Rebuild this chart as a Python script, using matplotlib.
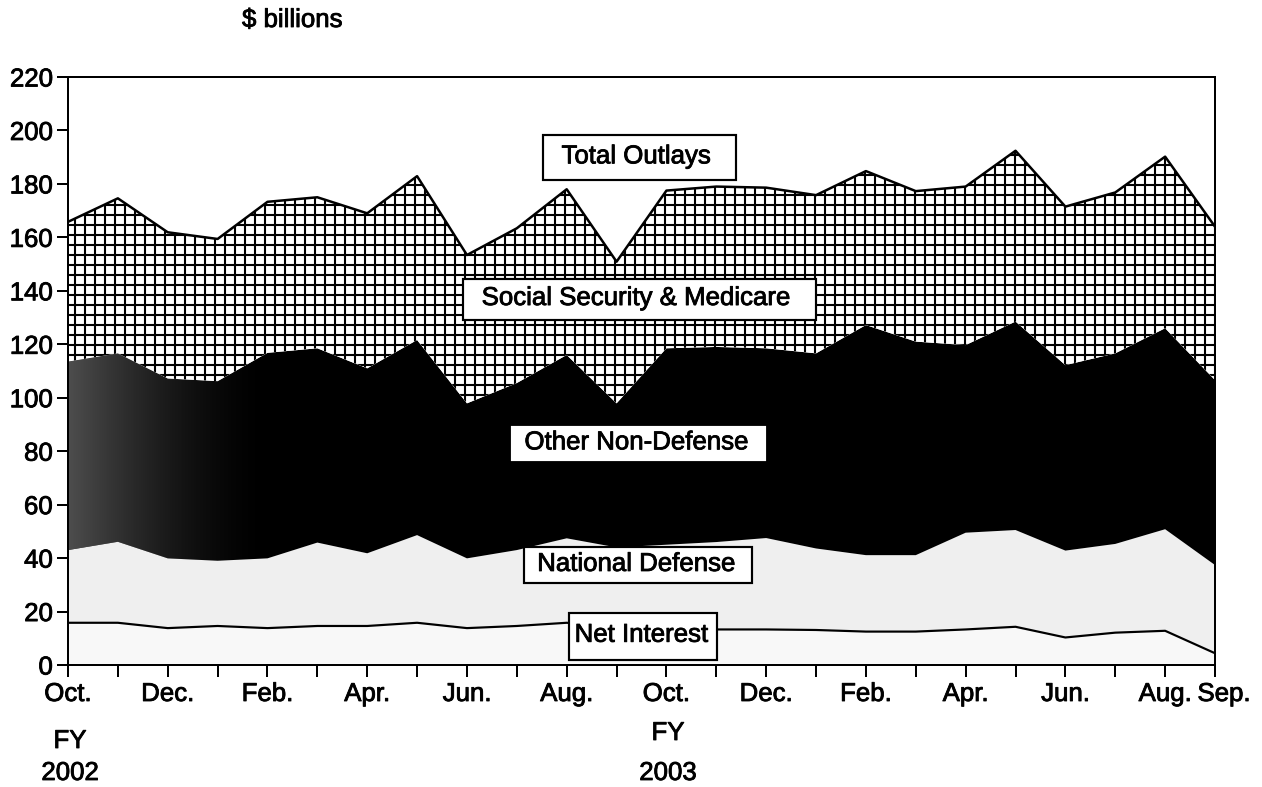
import numpy as np
import matplotlib.pyplot as plt
import matplotlib.patheffects as pe
from matplotlib.patches import Rectangle
from matplotlib.transforms import ScaledTranslation

plt.rcParams['font.family'] = ['Liberation Sans', 'DejaVu Sans']
plt.rcParams['hatch.linewidth'] = 1.25

# monthly outlays, Oct FY2002 .. Sep FY2003 ($ billions)
month_labels = ['Oct.', '', 'Dec.', '', 'Feb.', '', 'Apr.', '', 'Jun.', '', 'Aug.', '',
                'Oct.', '', 'Dec.', '', 'Feb.', '', 'Apr.', '', 'Jun.', '', 'Aug.', 'Sep.']
net_interest = [15.8, 15.8, 13.8, 14.6, 13.8, 14.6, 14.6, 15.8, 13.8, 14.6, 15.8, 14.0,
                13.5, 13.3, 13.3, 13.1, 12.5, 12.5, 13.3, 14.3, 10.3, 12.1, 12.8, 4.4]
national_defense = [27.2, 30.3, 26.1, 24.4, 26.1, 31.2, 27.2, 32.8, 26.1, 28.4, 31.6, 30.0,
                    31.5, 32.7, 34.2, 30.5, 28.6, 28.6, 36.2, 36.2, 32.5, 33.2, 38.0, 33.0]
other_non_defense = [70.5, 70.5, 67.3, 67.2, 76.9, 72.7, 69.2, 73.0, 58.0, 62.5, 68.6, 53.9,
                     73.5, 73.0, 71.0, 73.0, 86.1, 79.9, 70.2, 78.0, 69.4, 71.3, 75.2, 69.2]
ss_medicare = [52.3, 58.0, 54.7, 53.2, 56.5, 56.5, 58.0, 61.3, 55.5, 57.9, 62.0, 53.0,
               59.0, 60.0, 60.1, 59.2, 57.6, 56.3, 59.3, 63.9, 59.3, 60.2, 64.2, 57.4]

x = np.arange(len(month_labels))
ni_top = np.array(net_interest)
nd_top = ni_top + np.array(national_defense)
ond_top = nd_top + np.array(other_non_defense)
total = ond_top + np.array(ss_medicare)

dpi = 120
fig = plt.figure(figsize=(1262 / dpi, 787 / dpi), dpi=dpi)
ax = fig.add_axes([68 / 1262, 1 - 665 / 787, (1215 - 68) / 1262, (665 - 77) / 787])

ax.fill_between(x, 0, ni_top, facecolor='#f8f8f8', lw=0)
ax.fill_between(x, ni_top, nd_top, facecolor='#efefef', lw=0)
ond = ax.fill_between(x, nd_top, ond_top, facecolor='black', lw=0)
ax.fill_between(x, ond_top, total, facecolor='white', hatch='++', edgecolor='black', lw=0)

# grey stipple fading out at the left end of the black band
grad = np.zeros((2, 300, 4))
t = np.clip(np.linspace(0, 23, 300) / 4.0, 0, 1)
grad[..., :3] = 0.36
grad[..., 3] = 0.85 * (1 - t) ** 1.6
im = ax.imshow(grad, extent=(0, 23, 0, 220), aspect='auto', interpolation='bilinear', zorder=2)
im.set_clip_path(ond.get_paths()[0], transform=ax.transData)

ax.plot(x, total, color='black', lw=1.5, zorder=3)
ax.plot(x, ni_top, color='black', lw=1.3, zorder=3)

ax.set_xlim(0, 23)
ax.set_ylim(0, 220)
ax.set_yticks(np.arange(0, 221, 20))
ax.set_xticks(x)
ax.set_xticklabels(month_labels)
for s in ax.spines.values():
    s.set_linewidth(1.2)
ax.tick_params(axis='both', direction='out', width=1.2, labelsize=15.5, color='black')
ax.tick_params(axis='y', length=6.6, pad=2.5)
ax.tick_params(axis='x', length=7.2, pad=3)
last = ax.get_xticklabels()[-1]
last.set_transform(last.get_transform() + ScaledTranslation(9 / dpi, 0, fig.dpi_scale_trans))

heavy = [pe.withStroke(linewidth=0.5, foreground='black')]
for lab in ax.get_xticklabels() + ax.get_yticklabels():
    lab.set_path_effects(heavy)

# series labels in boxes (data coords)
boxes = [
    ('Total Outlays', (9.52, 181.4, 3.87, 16.9), (11.4, 190.3), 'black'),
    ('Social Security & Medicare', (7.92, 129.1, 7.08, 15.3), (11.4, 137.3), 'black'),
    ('Other Non-Defense', (8.90, 76.7, 5.08, 12.3), (11.4, 83.3), 'white'),
    ('National Defense', (9.14, 30.7, 4.58, 13.4), (11.4, 37.8), 'black'),
    ('Net Interest', (10.05, 1.9, 2.96, 17.6), (11.5, 11.3), 'black'),
]
for label, (bx, by, bw, bh), (tx, ty), ec in boxes:
    ax.add_patch(Rectangle((bx, by), bw, bh, facecolor='white', edgecolor=ec,
                           lw=1.3, zorder=4))
    ax.text(tx, ty, label, ha='center', va='center', fontsize=15.5, zorder=5,
            path_effects=heavy)

fig_texts = [
    ('$ billions', 242, 20, 'left'),
    ('FY', 70, 741, 'center'),
    ('2002', 70, 773, 'center'),
    ('FY', 668, 733, 'center'),
    ('2003', 668, 773, 'center'),
]
for txt, px, py, ha in fig_texts:
    fig.text(px / 1262, 1 - py / 787, txt, ha=ha, va='center', fontsize=15.5,
             path_effects=heavy)

fig.savefig('out.png', dpi=dpi)
